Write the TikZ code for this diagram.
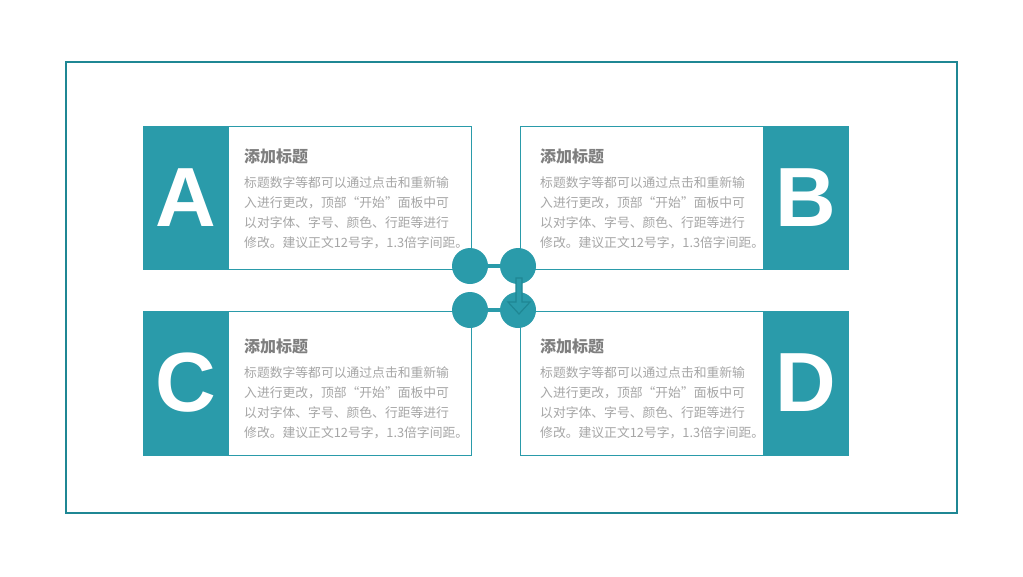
\documentclass[tikz,border=0pt]{standalone}
\usepackage{fontspec}
\setmainfont{Liberation Sans}
\newfontfamily\cjk{Noto Sans CJK SC}
\usepackage{xcolor}
\definecolor{teal1}{HTML}{2A9BAA}
\definecolor{teal2}{HTML}{1F8794}
\definecolor{ttl}{HTML}{7F7F7F}
\definecolor{txt}{HTML}{A6A6A6}

\begin{document}
\begin{tikzpicture}[x=1pt,y=-1pt]
\tikzstyle{card}=[rectangle,draw=teal1,line width=1pt,fill=white,minimum width=328pt,inner sep=0pt]
\tikzstyle{letter}=[rectangle,fill=teal1,draw=teal1,line width=1pt,minimum width=85pt,inner sep=0pt,text=white,font=\fontsize{84}{84}\selectfont\bfseries]
\tikzstyle{title}=[anchor=west,inner sep=0pt,text=ttl,font=\cjk\fontsize{16}{18}\selectfont\bfseries]
\tikzstyle{body}=[anchor=north west,inner sep=0pt,align=left,text=txt,font=\cjk\fontsize{12.8}{20}\selectfont]
\tikzstyle{dot}=[circle,fill=teal1,minimum size=36pt,inner sep=0pt]
\useasboundingbox (0,0) rectangle (1023,576);
\draw[teal2,line width=2pt] (66,62) rectangle (957,513);
% cards
\node[card,minimum height=143pt] (ca) at (307,197.5) {};
\node[card,minimum height=143pt] (cb) at (684,197.5) {};
\node[card,minimum height=144pt] (cc) at (307,383) {};
\node[card,minimum height=144pt] (cd) at (684,383) {};
\node[letter,minimum height=143pt] (la) at (185.5,197.5) {A};
\node[letter,minimum height=143pt] (lb) at (805.5,197.5) {B};
\node[letter,minimum height=144pt] (lc) at (185.5,383) {C};
\node[letter,minimum height=144pt] (ld) at (805.5,383) {D};
% texts
\node[title] (ta) at (244,156) {添加标题};
\node[body] (ba) at (244,176.5) {标题数字等都可以通过点击和重新输\\入进行更改，顶部“开始”面板中可\\以对字体、字号、颜色、行距等进行\\修改。建议正文12号字，1.3倍字间距。};
\node[title] (tb) at (540,156) {添加标题};
\node[body] (bb) at (540,176.5) {标题数字等都可以通过点击和重新输\\入进行更改，顶部“开始”面板中可\\以对字体、字号、颜色、行距等进行\\修改。建议正文12号字，1.3倍字间距。};
\node[title] (tc) at (244,346) {添加标题};
\node[body] (bc) at (244,366.5) {标题数字等都可以通过点击和重新输\\入进行更改，顶部“开始”面板中可\\以对字体、字号、颜色、行距等进行\\修改。建议正文12号字，1.3倍字间距。};
\node[title] (td) at (540,346) {添加标题};
\node[body] (bd) at (540,366.5) {标题数字等都可以通过点击和重新输\\入进行更改，顶部“开始”面板中可\\以对字体、字号、颜色、行距等进行\\修改。建议正文12号字，1.3倍字间距。};
% centre dots
\node[dot] (d1) at (470,266) {};
\node[dot] (d2) at (518,266) {};
\node[dot] (d3) at (470,310) {};
\node[dot] (d4) at (518,310) {};
\draw[teal1,line width=4.5pt] (d1) -- (d2);
\draw[teal1,line width=4.5pt] (d3) -- (d4);
\draw[teal2,fill=teal1,line width=1.2pt,line join=miter] (516,278) -- (522,278) -- (522,302) -- (530,302) -- (519,314) -- (508,302) -- (516,302) -- cycle;
\end{tikzpicture}
\end{document}
